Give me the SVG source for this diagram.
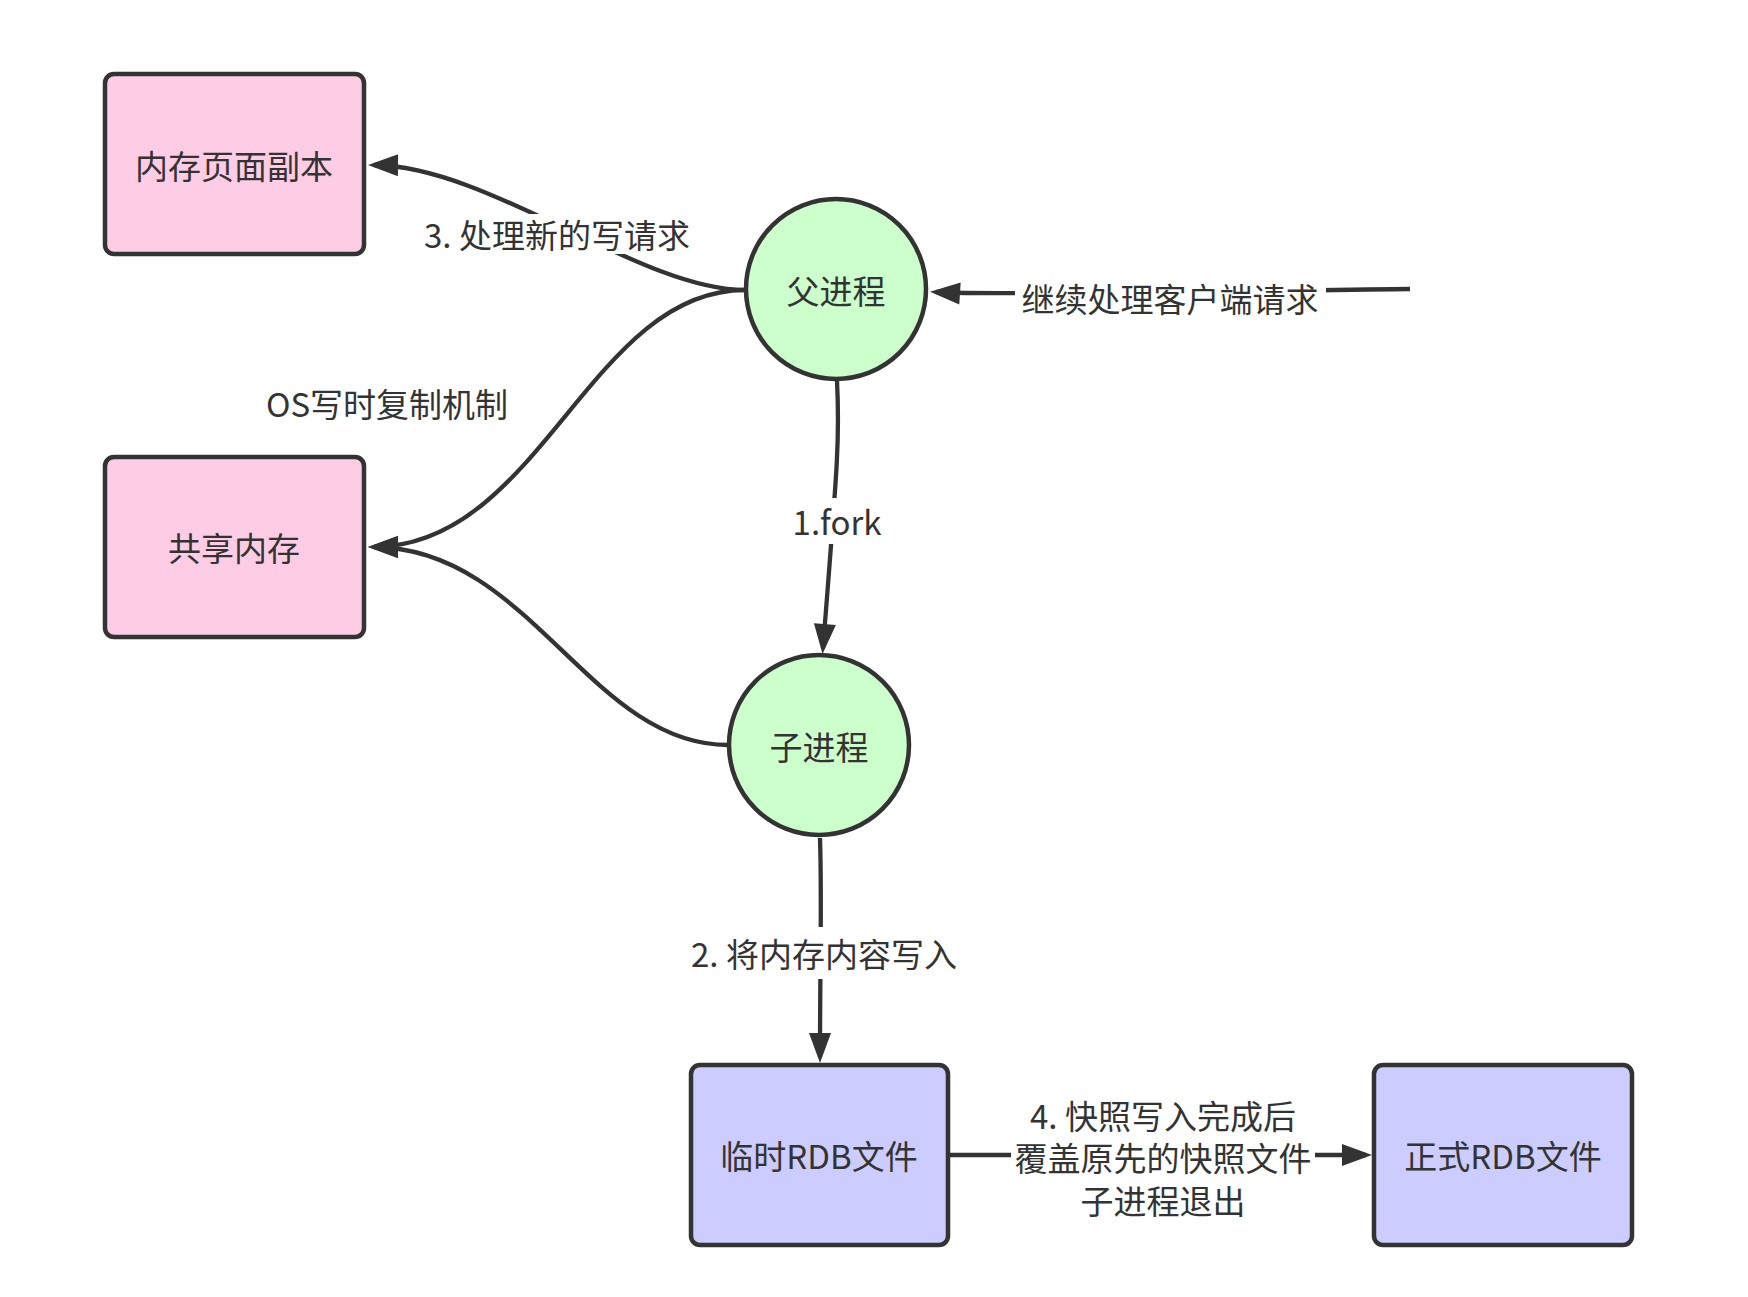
<svg xmlns="http://www.w3.org/2000/svg" width="1748" height="1297" viewBox="0 0 1748 1297">
<style>
.box{stroke:#333;stroke-width:4.5}
.pink{fill:#FFCCE6}
.blue{fill:#CCCCFF}
.green{fill:#CCFFCC}
.t{font-family:"Noto Sans CJK SC","Microsoft YaHei",sans-serif;font-size:33px;fill:#333;text-anchor:middle;dominant-baseline:central}
.e{fill:none;stroke:#333;stroke-width:4.3}
.bg{fill:#fff}
</style>
<defs>
<marker id="arr" markerUnits="userSpaceOnUse" markerWidth="32" markerHeight="24" viewBox="0 0 32 24" refX="25" refY="12" orient="auto">
<path d="M1,1 L31,12 L1,23 Z" fill="#333"/>
</marker>
</defs>
<rect width="1748" height="1297" fill="#fff"/>
<g id="connectors">
<path class="e" d="M745,290 C640,290 490,166 374,165" marker-end="url(#arr)"/>
<path class="e" d="M745,290 C590,290 540,546 374,547" marker-end="url(#arr)"/>
<path class="e" d="M728,745 C590,745 530,548 374,547" marker-end="url(#arr)"/>
<path class="e" d="M837,381 C840,440 837,470 823,648" marker-end="url(#arr)"/>
<path class="e" d="M820,838 C822,900 820,960 820,1057" marker-end="url(#arr)"/>
<path class="e" d="M949,1155 L1366,1155" marker-end="url(#arr)"/>
<path class="e" d="M1410,289 C1300,290 1000,296 936,292" marker-end="url(#arr)"/>
</g>
<g id="labels">
<rect class="bg" x="418" y="214" width="280" height="40"/>
<text class="t" x="557" y="234">3. 处理新的写请求</text>
<rect class="bg" x="1015" y="278" width="311" height="40"/>
<text class="t" x="1170" y="298">继续处理客户端请求</text>
<text class="t" x="387" y="403">OS写时复制机制</text>
<rect class="bg" x="789" y="498" width="96" height="46"/>
<text class="t" x="837" y="521">1.fork</text>
<rect class="bg" x="685" y="927" width="278" height="52"/>
<text class="t" x="824" y="953">2. 将内存内容写入</text>
<rect class="bg" x="1011" y="1092" width="304" height="130"/>
<text class="t" x="1163" y="1115">4. 快照写入完成后</text>
<text class="t" x="1163" y="1157">覆盖原先的快照文件</text>
<text class="t" x="1163" y="1200">子进程退出</text>
</g>
<g id="node-mem-copy">
<rect class="box pink" x="105" y="74" width="259" height="180" rx="9"/>
<text class="t" x="234" y="165">内存页面副本</text>
</g>
<g id="node-shared-mem">
<rect class="box pink" x="105" y="457" width="259" height="180" rx="9"/>
<text class="t" x="234" y="547">共享内存</text>
</g>
<g id="node-parent">
<ellipse class="box green" cx="836" cy="289" rx="90" ry="90"/>
<text class="t" x="836" y="290">父进程</text>
</g>
<g id="node-child">
<ellipse class="box green" cx="819" cy="745" rx="90" ry="90"/>
<text class="t" x="819" y="746">子进程</text>
</g>
<g id="node-temp-rdb">
<rect class="box blue" x="691" y="1065" width="257" height="180" rx="9"/>
<text class="t" x="819" y="1155">临时RDB文件</text>
</g>
<g id="node-final-rdb">
<rect class="box blue" x="1374" y="1065" width="258" height="180" rx="9"/>
<text class="t" x="1503" y="1155">正式RDB文件</text>
</g>
</svg>
